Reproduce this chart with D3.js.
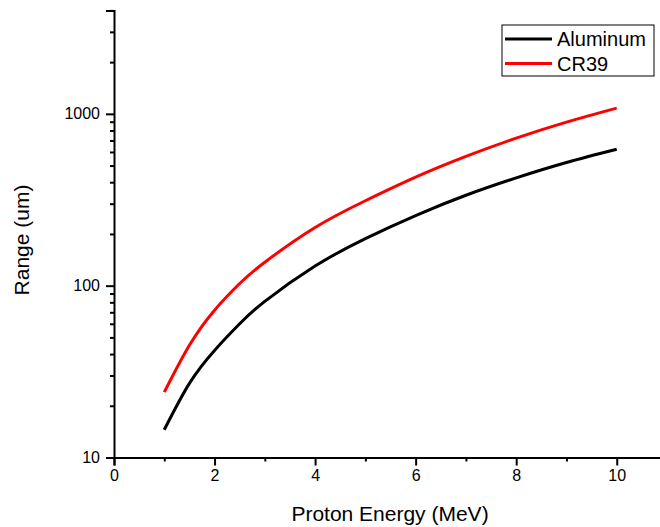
<!DOCTYPE html>
<html><head><meta charset="utf-8">
<script src="https://cdn.jsdelivr.net/npm/d3@7"></script>
<style>body{margin:0;background:#fff}svg{display:block}text{font-family:Arial,"Liberation Sans",sans-serif}</style>
</head><body>
<svg id="chart" width="660" height="527"></svg>
<script>
const energies = [1, 1.5, 2, 2.5, 3, 4, 5, 6, 7, 8, 9, 10];
const aluminum = [14.5, 27, 42, 60, 81, 130, 188, 256, 336, 424, 521, 622];
const cr39 = [24, 45, 72, 103, 137, 218, 312, 428, 565, 722, 895, 1080];
const seriesNames = ["Aluminum", "CR39"];
const seriesColors = ["#000000", "#ff0000"];
const xMajorTicks = [0, 2, 4, 6, 8, 10];
const xMinorTicks = [1, 3, 5, 7, 9];
const yMajorTicks = [10, 100, 1000];
const yMinorTicks = [20,30,40,50,60,70,80,90,200,300,400,500,600,700,800,900,2000,3000,4000];

const svg = d3.select("#chart");
const x = d3.scaleLinear().domain([0, 11]).range([114, 667]);
const y = d3.scaleLog().domain([10, 4000]).range([457.5, 10.4]);

const fontAx = 16;
// X axis
const xg = svg.append("g").attr("transform", "translate(0,457.5)");
xg.call(d3.axisBottom(x).tickValues(xMajorTicks).tickSize(8).tickPadding(4).tickFormat(d3.format("d")));
xg.append("g").call(d3.axisBottom(x).tickValues(xMinorTicks).tickSize(4).tickFormat(""));
xg.selectAll(".domain").attr("stroke-width", 2);
xg.selectAll("g g .domain").remove();
xg.selectAll("line").attr("stroke-width", 2);
xg.selectAll("text").attr("font-size", fontAx).attr("fill", "#000");

// Y axis
const yg = svg.append("g").attr("transform", "translate(114,0)");
yg.call(d3.axisLeft(y).tickValues(yMajorTicks).tickSize(8).tickPadding(6).tickFormat(d3.format("d")));
yg.append("g").call(d3.axisLeft(y).tickValues(yMinorTicks).tickSize(4).tickFormat(""));
yg.selectAll(".domain").attr("stroke-width", 2);
yg.selectAll("g g .domain").remove();
yg.selectAll("line").attr("stroke-width", 2);
yg.selectAll("text").attr("font-size", fontAx).attr("fill", "#000");

// Axis titles
svg.append("text").attr("x", 390).attr("y", 521).attr("text-anchor", "middle")
  .attr("font-size", 21).text("Proton Energy (MeV)");
svg.append("text").attr("transform", "translate(29,240) rotate(-90)").attr("text-anchor", "middle")
  .attr("font-size", 21).text("Range (um)");

// Lines
const series = [aluminum, cr39];
const line = d3.line().x((d, i) => x(energies[i])).y(d => y(d)).curve(d3.curveNatural);
series.forEach((s, k) => {
  svg.append("path").datum(s).attr("d", line).attr("fill", "none")
    .attr("stroke", seriesColors[k]).attr("stroke-width", 3);
});

// Legend
const lg = svg.append("g");
lg.append("rect").attr("x", 502).attr("y", 25).attr("width", 152).attr("height", 51)
  .attr("fill", "#fff").attr("stroke", "#000").attr("stroke-width", 1);
seriesNames.forEach((n, k) => {
  const yy = 39 + k * 24.5;
  lg.append("line").attr("x1", 505).attr("x2", 552).attr("y1", yy).attr("y2", yy)
    .attr("stroke", seriesColors[k]).attr("stroke-width", 3);
  lg.append("text").attr("x", 557).attr("y", yy + 7).attr("font-size", 20).text(n);
});
</script>
</body></html>
